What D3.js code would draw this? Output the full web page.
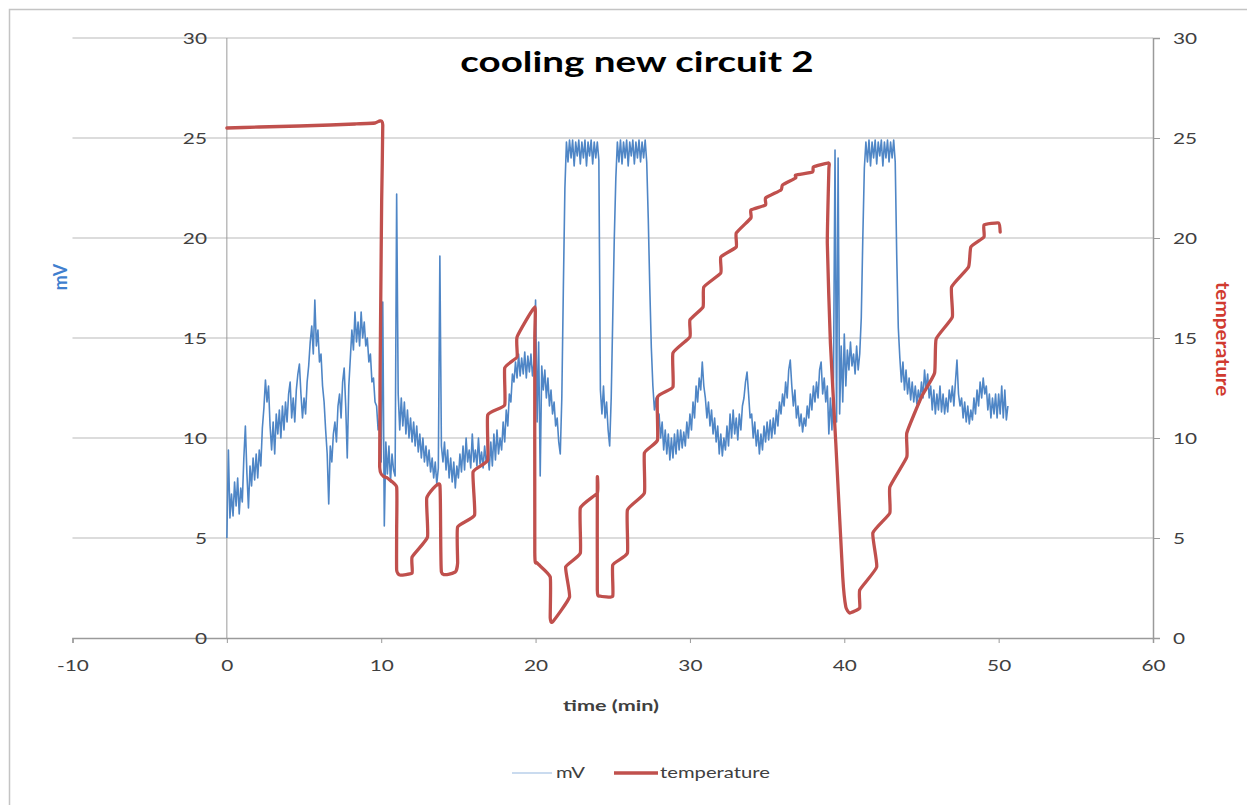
<!DOCTYPE html>
<html>
<head>
<meta charset="utf-8">
<script src="https://cdn.jsdelivr.net/npm/d3@7"></script>
<style>
  body { margin: 0; background: #fff; }
  svg text { font-family: Lato, "Open Sans", sans-serif; }
</style>
</head>
<body>
<div id="chart"></div>
<script>
// mV readings, one every 0.1 min starting at t = 0 (10 values per minute)
var mvStep = 0.1
var mvValues = [
  5.0, 9.4, 6.0, 7.2, 6.1, 7.8, 6.6, 8.0, 6.2, 7.5,
  6.8, 9.0, 10.6, 8.2, 6.5, 8.6, 7.6, 9.0, 7.9, 9.2,
  8.0, 9.4, 8.6, 10.5, 11.5, 12.9, 11.8, 12.6, 10.6, 9.4,
  10.8, 9.2, 11.2, 10.2, 11.4, 10.0, 11.6, 10.4, 11.8, 10.8,
  12.2, 12.8, 11.0, 12.0, 10.8, 12.4, 13.2, 13.7, 12.2, 11.0,
  12.0, 11.2, 12.8, 13.6, 14.8, 15.6, 14.2, 16.9, 14.6, 15.4,
  13.8, 14.2, 12.6, 11.8, 10.4, 9.2, 6.7, 9.6, 8.8, 10.2,
  10.8, 9.8, 11.6, 12.2, 11.0, 12.8, 13.5, 11.6, 9.0, 12.6,
  14.0, 15.4, 14.4, 16.3, 14.8, 15.8, 14.6, 16.3, 15.0, 15.8,
  14.6, 15.0, 13.8, 14.2, 12.8, 13.0, 11.8, 11.6, 10.4, 11.0,
  8.8, 16.8, 5.6, 9.8, 8.2, 9.6, 7.8, 9.2, 8.4, 8.1,
  22.2, 12.2, 10.4, 12.0, 10.6, 11.8, 10.2, 11.4, 10.0, 11.0,
  9.8, 10.8, 9.6, 10.6, 9.3, 10.2, 9.0, 10.0, 8.8, 9.6,
  8.6, 9.4, 8.3, 9.0, 8.0, 8.8, 7.7, 8.5, 19.1, 9.6,
  8.8, 9.8, 8.4, 9.4, 8.0, 9.0, 7.8, 8.8, 7.5, 8.6,
  8.0, 9.2, 8.3, 9.6, 8.4, 10.0, 8.8, 9.4, 8.5, 10.2,
  8.8, 9.4, 8.6, 10.0, 8.7, 9.3, 8.5, 9.6, 8.8, 9.2,
  8.4, 9.8, 8.6, 10.2, 8.9, 10.4, 9.2, 10.0, 9.4, 10.8,
  9.8, 11.4, 10.6, 12.2, 11.8, 13.2, 12.8, 13.8, 13.0, 14.2,
  13.1, 14.0, 13.2, 14.3, 13.0, 14.1, 13.3, 14.2, 13.1, 13.8,
  16.9, 10.8, 14.8, 8.1, 13.6, 12.4, 13.4, 12.0, 13.0, 11.6,
  12.4, 11.2, 11.8, 10.6, 11.0, 9.8, 9.2, 12.0, 17.5, 22.5,
  24.8, 23.8, 24.9, 24.0, 24.9, 23.6, 24.8, 24.1, 24.9, 23.7,
  24.8, 24.0, 24.9, 23.6, 24.8, 24.1, 24.9, 23.7, 24.8, 24.0,
  24.8, 23.9, 12.4, 11.2, 12.6, 11.0, 11.8, 10.4, 9.6, 12.0,
  16.0, 20.0, 23.0, 24.8, 23.8, 24.9, 23.7, 24.8, 24.0, 24.9,
  23.6, 24.8, 24.1, 24.9, 23.7, 24.8, 24.0, 24.9, 23.8, 24.8,
  24.0, 24.9, 23.8, 21.0, 17.5, 14.5, 12.6, 11.4, 12.0, 10.6,
  11.2, 10.0, 10.8, 9.4, 10.4, 9.2, 10.2, 8.9, 10.0, 9.0,
  10.2, 9.2, 10.4, 9.4, 10.4, 9.5, 10.3, 9.6, 10.8, 10.0,
  11.2, 10.4, 11.8, 11.0, 12.6, 11.8, 13.0, 12.4, 13.8, 12.6,
  12.0, 11.0, 11.8, 10.6, 11.4, 10.2, 11.0, 9.8, 10.6, 9.2,
  10.2, 9.1, 10.0, 9.4, 10.6, 9.6, 11.2, 10.0, 11.4, 10.2,
  11.0, 9.9, 11.2, 10.4, 11.6, 12.0, 12.8, 13.3, 12.2, 11.0,
  11.2, 10.0, 10.8, 9.6, 10.4, 9.2, 10.2, 9.4, 10.6, 9.8,
  10.8, 9.9, 10.9, 10.0, 11.0, 10.2, 11.4, 10.6, 11.8, 11.2,
  12.2, 11.6, 12.8, 12.0, 13.4, 13.9, 12.6, 11.6, 12.4, 11.0,
  11.6, 10.6, 11.2, 10.3, 11.0, 10.6, 11.6, 11.0, 12.2, 11.4,
  12.6, 11.8, 12.8, 12.0, 13.4, 13.8, 12.2, 13.0, 11.8, 12.6,
  10.2, 12.0, 10.4, 13.0, 24.4, 10.8, 24.0, 11.2, 14.6, 11.8,
  15.2, 12.6, 14.4, 13.4, 14.8, 13.6, 14.2, 13.2, 14.6, 13.4,
  14.2, 16.0, 20.0, 23.5, 24.8, 23.8, 24.9, 23.6, 24.8, 24.0,
  24.9, 23.7, 24.8, 24.1, 24.9, 23.6, 24.8, 24.0, 24.9, 23.8,
  24.8, 24.0, 24.9, 23.8, 19.0, 15.5, 14.0, 12.8, 13.8, 12.4,
  13.4, 12.2, 13.0, 11.9, 12.8, 11.8, 12.6, 11.7, 12.4, 11.8,
  12.8, 12.0, 13.4, 12.4, 13.2, 12.0, 12.6, 11.4, 12.4, 11.2,
  12.2, 11.4, 12.6, 11.3, 12.2, 11.2, 12.0, 11.3, 12.4, 11.8,
  12.6, 11.6, 12.8, 13.9, 12.2, 11.6, 12.0, 11.0, 11.8, 10.8,
  11.6, 10.7, 11.4, 10.9, 12.0, 11.2, 12.4, 11.6, 12.8, 12.0,
  13.0, 12.2, 12.6, 11.4, 12.2, 11.0, 12.0, 11.2, 12.2, 11.0,
  12.2, 11.2, 12.6, 11.0, 12.4, 10.9, 11.6
]

// temperature trace (time in min, temperature)
var tempTime = [
  0, 2.1, 4.7, 6.7, 8.3, 9.6, 9.9, 10.1, 10.03, 9.97, 9.9, 10.4, 11.0, 11.0, 11.0, 11.2,
  12.0, 12.0, 13.0, 12.95, 13.8, 13.9, 14.8, 14.95, 14.95, 16.05, 15.95, 16.9, 16.9, 18.0,
  18.0, 18.8, 18.8, 19.95, 19.95, 19.95, 20.1, 20.95, 20.95, 21.1, 22.2, 21.95, 22.9, 22.9,
  24.0, 24.0, 24.0, 24.15, 25.0, 25.0, 25.95, 25.95, 27.05, 27.05, 27.9, 27.9, 28.9, 28.9,
  30.0, 30.0, 30.85, 30.9, 32.0, 32.0, 33.0, 33.0, 33.95, 33.95, 34.9, 34.9, 35.9, 36.0,
  36.85, 36.85, 37.95, 38.0, 39.0, 39.0, 38.9, 39.1, 39.45, 39.9, 40.1, 40.35, 41.0, 41.0,
  42.1, 41.85, 42.95, 42.95, 44.05, 44.05, 45.0, 45.85, 45.95, 47.0, 46.95, 48.05, 48.2,
  49.05, 49.05, 50.0, 50.1
]
var tempValues = [
  25.5, 25.55, 25.6, 25.65, 25.7, 25.75, 25.85, 25.65, 21.9, 16.9, 8.55, 8.0, 7.55, 5.4, 3.4, 3.15,
  3.25, 4.05, 5.05, 7.0, 7.65, 3.3, 3.3, 3.75, 5.55, 6.15, 8.3, 8.9, 11.15, 11.65,
  13.5, 14.05, 15.05, 16.55, 14.9, 4.25, 3.75, 3.05, 1.0, 0.8, 2.05, 3.55, 4.25, 6.5,
  7.25, 8.0, 2.4, 2.1, 2.1, 3.65, 4.25, 6.4, 7.25, 9.25, 9.9, 12.05, 12.55, 14.25,
  15.05, 15.9, 16.55, 17.55, 18.25, 19.05, 19.55, 20.25, 21.0, 21.4, 21.65, 22.0, 22.4, 22.65,
  23.0, 23.15, 23.3, 23.55, 23.75, 23.4, 19.75, 14.75, 9.75, 3.05, 1.55, 1.25, 1.5, 2.4,
  3.55, 5.25, 6.25, 7.55, 9.05, 10.25, 12.05, 13.25, 14.95, 16.05, 17.55, 18.55, 19.55,
  20.05, 20.65, 20.75, 20.3
]

var xTicks = [-10, 0, 10, 20, 30, 40, 50, 60]
var yTicks = [0, 5, 10, 15, 20, 25, 30]

var chartTitle = "cooling new circuit 2"
var xLabel = "time (min)"
var leftLabel = "mV"
var rightLabel = "temperature"

var blue = "#4f86c6"
var red = "#c0504d"
var labelGrey = "#404040"

var width = 1247
var height = 805

// the source chart is stretched sideways, so text is widened to match
function widen(sel, k) {
  sel.each(function() {
    var w = this.getComputedTextLength()
    d3.select(this).attr("textLength", w * k).attr("lengthAdjust", "spacingAndGlyphs")
  })
}

var svg = d3.select("#chart").append("svg")
  .attr("width", width)
  .attr("height", height)

// outer chart frame
svg.append("rect")
  .attr("x", 9.5).attr("y", 9.5)
  .attr("width", 1300).attr("height", 900)
  .attr("fill", "#fff")
  .attr("stroke", "#c4c4c4")
  .attr("stroke-width", 1.5)

var x = d3.scaleLinear().domain([-10, 60]).range([72.5, 1153])
var yL = d3.scaleLinear().domain([0, 30]).range([638, 38])
var yR = d3.scaleLinear().domain([0, 30]).range([638, 38])

// horizontal gridlines
svg.append("g")
  .selectAll("line")
  .data(yTicks.filter(function(d) { return d > 0 }))
  .enter().append("line")
  .attr("x1", x(-10)).attr("x2", x(60))
  .attr("y1", function(d) { return yL(d) })
  .attr("y2", function(d) { return yL(d) })
  .attr("stroke", "#d0d0d0")
  .attr("stroke-width", 1.5)

// vertical value axis at x = 0
svg.append("line")
  .attr("x1", x(0)).attr("x2", x(0))
  .attr("y1", yL(30)).attr("y2", yL(0))
  .attr("stroke", "#9a9a9a")
  .attr("stroke-width", 1)

// bottom axis
var xAxis = svg.append("g")
  .attr("transform", "translate(0," + yL(0) + ")")
  .call(d3.axisBottom(x).tickValues(xTicks).tickSize(5).tickPadding(17)
    .tickFormat(function(d) { return String(d) }))
xAxis.select(".domain").attr("stroke", "#9a9a9a").attr("stroke-width", 1.5)
xAxis.selectAll(".tick line").attr("stroke", "#9a9a9a")
xAxis.selectAll("text")
  .attr("font-size", 16).attr("fill", labelGrey)
  .style("font-family", "Lato, sans-serif")
  .call(widen, 1.3)

// left tick labels
svg.append("g")
  .selectAll("text")
  .data(yTicks)
  .enter().append("text")
  .attr("x", 207)
  .attr("y", function(d) { return yL(d) + 6 })
  .attr("text-anchor", "end")
  .attr("font-size", 16)
  .attr("fill", labelGrey)
  .text(function(d) { return d })
  .call(widen, 1.3)

// right axis
var rAxis = svg.append("g")
  .attr("transform", "translate(" + x(60) + ",0)")
  .call(d3.axisRight(yR).tickValues(yTicks).tickSize(7).tickPadding(13))
rAxis.select(".domain").attr("stroke", "#9a9a9a").attr("stroke-width", 1.5)
rAxis.selectAll(".tick line").attr("stroke", "#9a9a9a")
rAxis.selectAll("text")
  .attr("font-size", 16).attr("fill", labelGrey)
  .style("font-family", "Lato, sans-serif")
  .call(widen, 1.3)

// mV line
var mvData = mvValues.map(function(v, i) { return { t: i * mvStep, v: v } })
var mvLine = d3.line()
  .x(function(d) { return x(d.t) })
  .y(function(d) { return yL(d.v) })

svg.append("path")
  .datum(mvData)
  .attr("d", mvLine)
  .attr("fill", "none")
  .attr("stroke", blue)
  .attr("stroke-width", 1.6)
  .attr("stroke-linejoin", "round")

// temperature line, lightly smoothed like the original
var tempData = tempTime.map(function(t, i) { return { t: t, v: tempValues[i] } })
var tempLine = d3.line()
  .curve(d3.curveCardinal.tension(0.6))
  .x(function(d) { return x(d.t) })
  .y(function(d) { return yR(d.v) })

svg.append("path")
  .datum(tempData)
  .attr("d", tempLine)
  .attr("fill", "none")
  .attr("stroke", red)
  .attr("stroke-width", 3.3)
  .attr("stroke-linejoin", "round")
  .attr("stroke-linecap", "round")

// title
svg.append("text")
  .attr("x", 637).attr("y", 72)
  .attr("text-anchor", "middle")
  .attr("font-size", 29)
  .attr("font-weight", "bold")
  .attr("fill", "#000")
  .text(chartTitle)
  .call(widen, 1.33)

// axis titles
svg.append("text")
  .attr("x", 611).attr("y", 711)
  .attr("text-anchor", "middle")
  .attr("font-size", 16)
  .attr("font-weight", "bold")
  .attr("fill", labelGrey)
  .text(xLabel)
  .call(widen, 1.35)

svg.append("text")
  .attr("transform", "translate(67,277) rotate(-90)")
  .attr("text-anchor", "middle")
  .attr("font-size", 18)
  .attr("font-weight", "bold")
  .attr("fill", "#3f7fcf")
  .text(leftLabel)

svg.append("text")
  .attr("transform", "translate(1216,339) rotate(90)")
  .attr("text-anchor", "middle")
  .attr("font-size", 18)
  .attr("font-weight", "bold")
  .attr("fill", "#d03a30")
  .text(rightLabel)
  .call(widen, 1.15)

// legend
var legend = svg.append("g").attr("transform", "translate(0,773)")
legend.append("line")
  .attr("x1", 512).attr("x2", 552)
  .attr("stroke", "#b8cfea").attr("stroke-width", 1.5)
legend.append("text")
  .attr("x", 556).attr("y", 5)
  .attr("font-size", 15).attr("fill", labelGrey)
  .text("mV")
  .call(widen, 1.35)
legend.append("line")
  .attr("x1", 614).attr("x2", 658)
  .attr("stroke", red).attr("stroke-width", 3.5)
legend.append("text")
  .attr("x", 660).attr("y", 5)
  .attr("font-size", 15).attr("fill", labelGrey)
  .text("temperature")
  .call(widen, 1.35)
</script>
</body>
</html>
